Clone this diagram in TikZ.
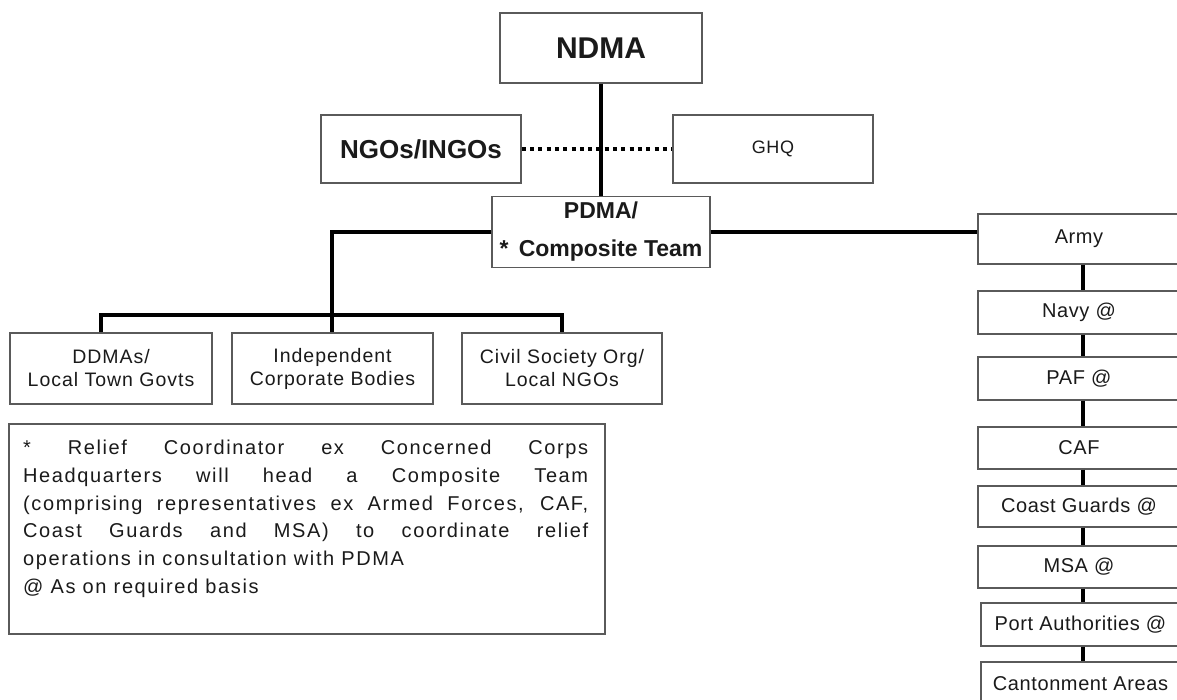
\documentclass[tikz,border=0pt]{standalone}
\usepackage{fontspec}
\setmainfont{Liberation Sans}
\newfontfamily\spA[LetterSpace=5]{Liberation Sans}
\newfontfamily\spB[LetterSpace=8]{Liberation Sans}
\newfontfamily\spC[LetterSpace=3]{Liberation Sans}
\newfontfamily\spD[LetterSpace=4]{Liberation Sans}
\definecolor{boxgray}{HTML}{5A5A5A}
\definecolor{txt}{HTML}{1A1A1A}
\tikzset{
 box/.style={draw=boxgray, line width=1.4pt, fill=white, inner sep=0pt, align=center, text=txt},
 conn/.style={line width=4.5pt, draw=black, line join=miter},
 dotconn/.style={line width=3.5pt, draw=black, dash pattern=on 4pt off 4.3pt},
 topfont/.style={font=\bfseries\fontsize{30}{34}\selectfont},
 midfont/.style={font=\bfseries\fontsize{26}{30}\selectfont},
 pdfont/.style={font=\bfseries\fontsize{23}{38}\selectfont},
 ghqfont/.style={font=\spD\fontsize{18}{22}\selectfont},
 lowfont/.style={font=\spA\fontsize{19.5}{23}\selectfont},
 colfont/.style={font=\spC\fontsize{20}{24}\selectfont},
 lowbox/.style={box, lowfont, minimum height=71},
 colbox/.style={box, colfont, minimum width=202, minimum height=43},
}
\begin{document}
\begin{tikzpicture}[x=1pt,y=-1pt]
\fill[white] (0,0) rectangle (1177,700);
\path[use as bounding box] (0,0) rectangle (1177,700);
\clip (0,0) rectangle (1177,700);

% top
\node[box, topfont, minimum width=202, minimum height=70] (ndma) at (601,48) {NDMA};
\node[box, midfont, minimum width=200, minimum height=68] (ngo) at (421,149) {NGOs/INGOs};
\node[box, ghqfont, minimum width=200, minimum height=68] (ghq) at (773,149) {GHQ};
\node[box, pdfont, minimum width=218, minimum height=71] (pdma) at (601,232) {PDMA/\\* \,Composite Team};

% lower boxes
\node[lowbox, minimum width=202] (ddma) at (111,368.5) {DDMAs/\\Local Town Govts};
\node[lowbox, minimum width=201] (indep) at (332.5,368.5) {Independent\\Corporate Bodies};
\node[lowbox, minimum width=200] (civil) at (562,368.5) {Civil Society Org/\\Local NGOs};

% note
\node[draw=boxgray, line width=1.4pt, minimum width=596, minimum height=210, inner sep=0pt] (notebox) at (307,529) {};
\node[anchor=north west, inner sep=0pt, align=left, text=txt, font=\spB\fontsize{20}{27.7}\selectfont] (notetext) at (23,440) {%
\makebox[565pt][s]{* Relief Coordinator ex Concerned Corps}\\
\makebox[565pt][s]{Headquarters will head a Composite Team}\\
\makebox[565pt][s]{(comprising representatives ex Armed Forces, CAF,}\\
\makebox[565pt][s]{Coast Guards and MSA) to coordinate relief}\\
operations in consultation with PDMA\\
@ As on required basis};

% right column
\node[colbox, minimum height=50] (army) at (1079,239) {Army};
\node[colbox] (navy) at (1079,312.5) {Navy @};
\node[colbox] (paf) at (1079,378.5) {PAF @};
\node[colbox, minimum height=42] (caf) at (1079,448) {CAF};
\node[colbox, minimum height=41] (cg) at (1079,506.5) {Coast Guards @};
\node[colbox, minimum height=42] (msa) at (1079,567) {MSA @};
\node[colbox, minimum width=199] (port) at (1080.5,624.5) {Port Authorities @};
\node[colbox, minimum width=199] (cant) at (1080.5,683.5) {Cantonment Areas};

% connectors
\coordinate (b1) at (101,315);
\coordinate (b2) at (332,315);
\coordinate (b3) at (562,315);
\coordinate (vx) at (1083,0);

\draw[dotconn] (ngo.east) -- (ghq.west);
\draw[conn] (ndma.south) -- (pdma.north);
\draw[conn] (pdma.west) -| (b2) -- (b2 |- indep.north);
\draw[conn] (b1 |- ddma.north) -- (b1) -- (b3) -- (b3 |- civil.north);
\draw[conn, line width=4pt] (pdma.east) -- (pdma.east -| army.west);
\draw[conn, line width=4pt] (army.south -| vx) -- (navy.north -| vx);
\draw[conn, line width=4pt] (navy.south -| vx) -- (paf.north -| vx);
\draw[conn, line width=4pt] (paf.south -| vx) -- (caf.north -| vx);
\draw[conn, line width=4pt] (caf.south -| vx) -- (cg.north -| vx);
\draw[conn, line width=4pt] (cg.south -| vx) -- (msa.north -| vx);
\draw[conn, line width=4pt] (msa.south -| vx) -- (port.north -| vx);
\draw[conn, line width=4pt] (port.south -| vx) -- (cant.north -| vx);
\end{tikzpicture}
\end{document}
